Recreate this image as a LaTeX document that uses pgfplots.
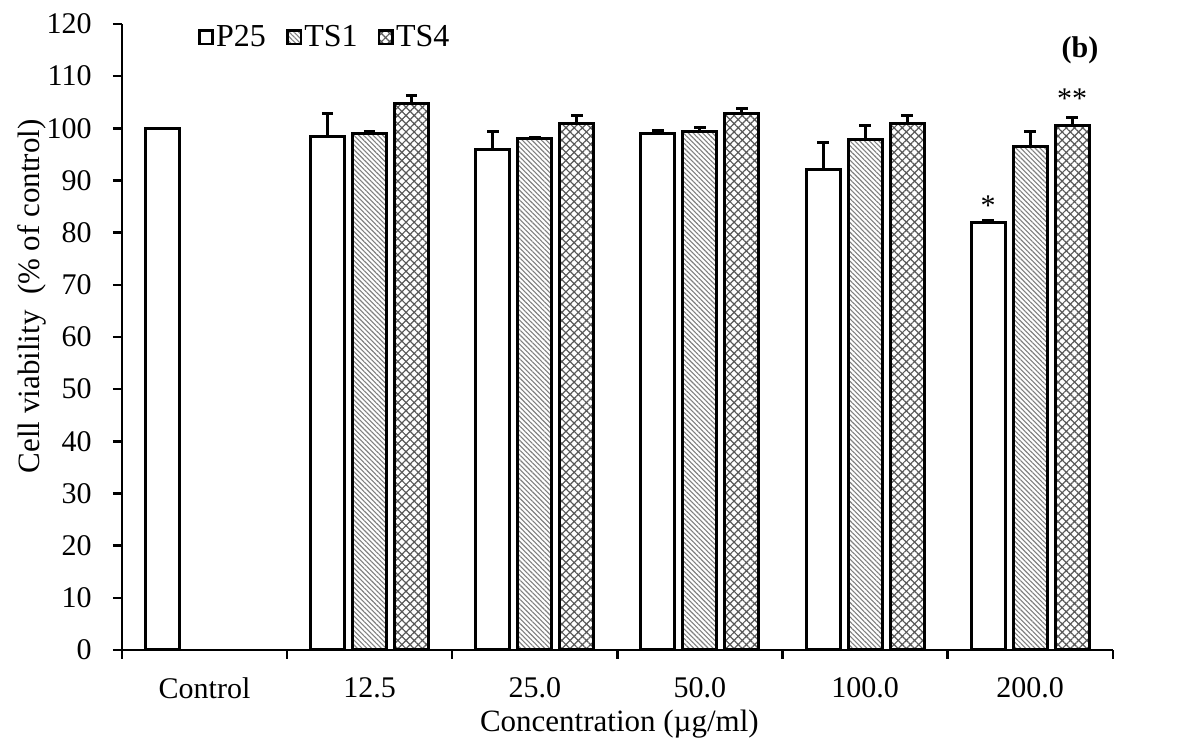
\documentclass[border=0pt]{standalone}
\usepackage{fontspec}
\setmainfont{Liberation Serif}
\usepackage{pgfplots}
\usepackage{pgfplotstable}
\pgfplotsset{compat=1.18}
\usetikzlibrary{patterns,patterns.meta}

\pgfplotstableread{
x y
0 100.0
}\ctrl
\pgfplotstableread{
x y e
1 98.5 4.4
2 96.0 3.3
3 99.1 0.4
4 92.2 5.0
5 82.0 0.3
}\pone
\pgfplotstableread{
x y e
1 99.1 0.3
2 98.1 0.2
3 99.3 0.9
4 97.9 2.7
5 96.6 2.7
}\tsone
\pgfplotstableread{
x y e
1 104.7 1.5
2 101.0 1.4
3 102.9 0.9
4 101.0 1.4
5 100.6 1.4
}\tsfour

\newcommand{\lf}{\fontsize{15}{18}\selectfont}
\newcommand{\af}{\fontsize{15.5}{18}\selectfont}
\newcommand{\gf}{\fontsize{16}{19}\selectfont}

\pgfplotsset{
  boxlegend/.style={legend image code/.code={\draw[##1, line width=1.4pt] (0pt,-3.4pt) rectangle (6.8pt,3.4pt);}},
}

\begin{document}
\begin{tikzpicture}
\useasboundingbox (0,0) rectangle (595pt,371.5pt);
\begin{axis}[
  at={(61pt,46.5pt)}, anchor=south west,
  scale only axis, width=495.4pt, height=313pt,
  axis x line*=bottom, axis y line*=left,
  axis line style={line width=1.2pt},
  xmin=-0.5, xmax=5.5, ymin=0, ymax=120,
  ytick={0,10,...,120},
  xtick={-0.5,0.5,...,5.5}, xticklabels={},
  extra x ticks={0,1,2,3,4,5},
  extra x tick labels={Control,12.5,25.0,50.0,100.0,200.0},
  extra x tick style={major tick length=0pt},
  tick align=outside, major tick length=4.5pt,
  tick style={line width=1.2pt, black},
  /pgf/number format/assume math mode=true,
  tick label style={font=\lf},
  xticklabel style={anchor=center, yshift=-19pt},
  yticklabel style={anchor=east, inner sep=0pt, xshift=-10.5pt},
  every axis y label/.style={at={(rel axis cs:0,0.565)}, rotate=90, anchor=center, yshift=45pt, font=\af},
  every axis x label/.style={at={(rel axis cs:0.502,0)}, anchor=center, yshift=-37pt, font=\af},
  ylabel={Cell viability\ \ (\% of control)},
  xlabel={Concentration (µg/ml)},
  ybar, bar width=17pt,
  legend columns=-1,
  legend style={at={(0.076,0.979)}, anchor=west, draw=none, fill=none, font=\gf,
    inner sep=0pt, nodes={inner sep=1pt},
    /tikz/every even column/.append style={column sep=9pt}},
  legend cell align=left,
  error bars/error bar style={line width=1.5pt, black},
  error bars/error mark options={rotate=90, line width=1.5pt, black, mark size=2.9pt},
]
\addplot[bar shift=-21pt, fill=white, draw=black, line width=1.5pt, boxlegend]
  table[x=x, y=y] {\ctrl};
\addlegendentry{P25}
\addplot[bar shift=-21pt, fill=white, draw=black, line width=1.5pt, forget plot,
  error bars/.cd, y dir=plus, y explicit]
  table[x=x, y=y, y error=e] {\pone};
\addplot[bar shift=0pt, fill=white, draw=black, line width=1.5pt, boxlegend,
  postaction={pattern={Lines[angle=-45, distance=1.7pt, line width=0.55pt]}, pattern color=black!50},
  error bars/.cd, y dir=plus, y explicit]
  table[x=x, y=y, y error=e] {\tsone};
\addlegendentry{TS1}
\addplot[bar shift=21pt, fill=white, draw=black, line width=1.5pt, boxlegend,
  postaction={pattern={Hatch[angle=45, distance=2.9pt, line width=0.6pt]}, pattern color=black!65},
  error bars/.cd, y dir=plus, y explicit]
  table[x=x, y=y, y error=e] {\tsfour};
\addlegendentry{TS4}
\node[font=\lf] at ([xshift=-21pt]axis cs:5,85.2) {*};
\node[font=\lf] at ([xshift=21pt]axis cs:5,105.6) {**};
\end{axis}
\node[font=\lf\bfseries] at (540pt,346.5pt) {(b)};
\end{tikzpicture}
\end{document}
